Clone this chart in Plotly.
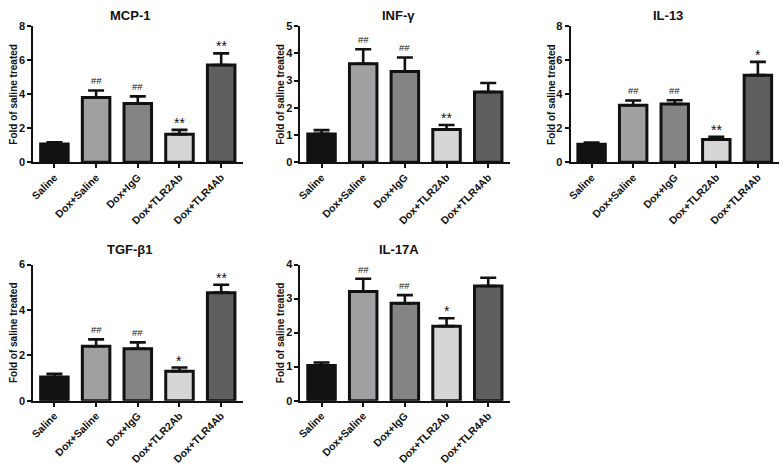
import plotly.graph_objects as go

categories = ["Saline", "Dox+Saline", "Dox+IgG", "Dox+TLR2Ab", "Dox+TLR4Ab"]
bar_colors = ["#121212", "#a0a0a3", "#848484", "#d6d6d6", "#5f5f5f"]

mcp1 = [1.07, 3.80, 3.45, 1.65, 5.72]
mcp1_err = [0.10, 0.42, 0.42, 0.25, 0.68]
mcp1_sig = ["", "##", "##", "**", "**"]

infg = [1.04, 3.62, 3.33, 1.20, 2.58]
infg_err = [0.14, 0.53, 0.52, 0.17, 0.33]
infg_sig = ["", "##", "##", "**", ""]

il13 = [1.06, 3.35, 3.42, 1.33, 5.12]
il13_err = [0.10, 0.28, 0.22, 0.16, 0.78]
il13_sig = ["", "##", "##", "**", "*"]

tgfb1 = [1.04, 2.40, 2.29, 1.30, 4.76]
tgfb1_err = [0.14, 0.30, 0.28, 0.16, 0.35]
tgfb1_sig = ["", "##", "##", "*", "**"]

il17a = [1.03, 3.21, 2.86, 2.19, 3.37]
il17a_err = [0.09, 0.37, 0.24, 0.23, 0.24]
il17a_sig = ["", "##", "##", "*", ""]

titles = ["MCP-1", "INF-γ", "IL-13", "TGF-β1", "IL-17A"]
y_max = [8, 5, 8, 6, 4]
y_dtick = [2, 1, 2, 2, 1]
y_title = "Fold of saline treated"

panels = [
    (mcp1, mcp1_err, mcp1_sig),
    (infg, infg_err, infg_sig),
    (il13, il13_err, il13_sig),
    (tgfb1, tgfb1_err, tgfb1_sig),
    (il17a, il17a_err, il17a_sig),
]

W, H = 784, 470
# pixel geometry of each panel: (x_left, x_right, y_top, y_bottom)
geom = [
    (29.5, 240.0, 20.7, 160.3),
    (298.0, 508.4, 20.7, 160.3),
    (569.5, 779.4, 20.7, 160.3),
    (29.5, 240.0, 265.3, 405.0),
    (298.0, 508.4, 265.3, 405.0),
]
title_pos = [(127, 10), (397, 10), (667, 10), (127, 250), (397, 250)]

FONT = "Liberation Sans, Arial, sans-serif"
xpos = list(range(len(categories)))

fig = go.Figure()
annotations = []
for i, ((vals, errs, sigs), (xl, xr, yt, yb)) in enumerate(zip(panels, geom)):
    ax = "" if i == 0 else str(i + 1)
    fig.add_trace(go.Bar(
        x=xpos, y=vals, width=0.66,
        marker=dict(color=bar_colors, line=dict(color="#111111", width=3)),
        error_y=dict(type="data", array=errs, arrayminus=[0] * len(errs),
                     symmetric=False, color="#111111", thickness=2.6, width=8),
        xaxis="x" + ax, yaxis="y" + ax, showlegend=False,
    ))
    xa = dict(
        domain=[xl / W, xr / W], range=[-0.505, 4.518], anchor="y" + ax,
        tickmode="array", tickvals=xpos, ticktext=categories, tickangle=-45,
        ticks="outside", ticklen=4, tickwidth=1.5, tickcolor="#111111",
        showline=True, linecolor="#111111", linewidth=2, showgrid=False,
        zeroline=False, ticklabelstandoff=-1,
        tickfont=dict(family=FONT, size=10.5, color="#111111", weight="bold"),
    )
    ya = dict(
        domain=[1 - yb / H, 1 - yt / H], range=[0, y_max[i]], anchor="x" + ax,
        dtick=y_dtick[i], tick0=0,
        ticks="outside", ticklen=4, tickwidth=1.5, tickcolor="#111111",
        showline=True, linecolor="#111111", linewidth=2, showgrid=False,
        zeroline=False,
        tickfont=dict(family=FONT, size=11, color="#111111", weight="bold"),
    )
    fig.layout["xaxis" + ax] = xa
    fig.layout["yaxis" + ax] = ya
    for xi, v, e, s in zip(xpos, vals, errs, sigs):
        if s:
            star = s.startswith("*")
            annotations.append(dict(
                x=xi, y=v + e, xref="x" + ax, yref="y" + ax, text=s,
                showarrow=False, yanchor="bottom",
                yshift=-3 if star else 2,
                font=dict(family=FONT, size=14 if star else 9.5, color="#111111"),
            ))
    tx, ty = title_pos[i]
    annotations.append(dict(
        x=tx / W, y=1 - ty / H, xref="paper", yref="paper", text=titles[i],
        showarrow=False, xanchor="center", yanchor="middle",
        font=dict(family=FONT, size=13, color="#111111", weight="bold"),
    ))
    annotations.append(dict(
        x=(xl - 20) / W, y=1 - (yt + yb) / 2 / H, xref="paper", yref="paper",
        text=y_title, textangle=-90, showarrow=False,
        xanchor="center", yanchor="middle",
        font=dict(family=FONT, size=10, color="#111111", weight="bold"),
    ))

fig.update_layout(
    width=W, height=H, margin=dict(l=0, r=0, t=0, b=0),
    paper_bgcolor="white", plot_bgcolor="white",
    annotations=annotations, bargap=0.3,
)
fig.write_html("out.html", config={"displayModeBar": False},
               post_script="document.body.style.margin='0px';"
                           "document.body.style.overflow='hidden';")
